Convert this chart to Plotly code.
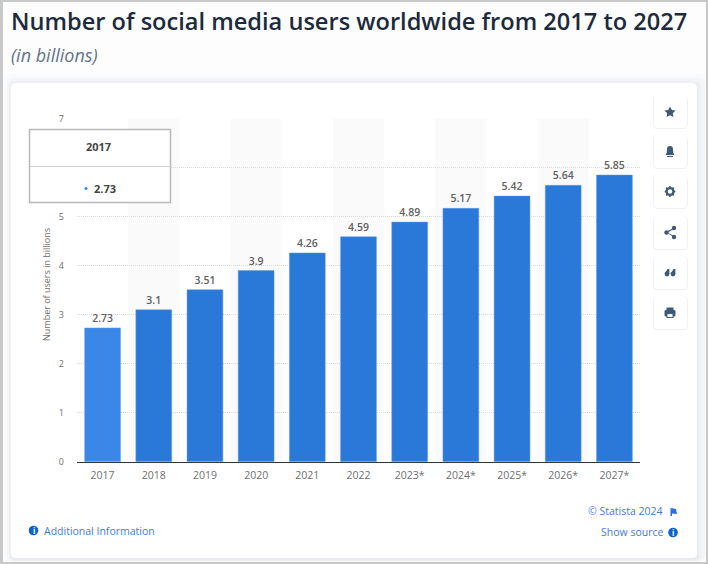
import plotly.graph_objects as go

W = 708
H = 564

years = ['2017', '2018', '2019', '2020', '2021', '2022', '2023*', '2024*', '2025*', '2026*', '2027*']
users = [2.73, 3.1, 3.51, 3.9, 4.26, 4.59, 4.89, 5.17, 5.42, 5.64, 5.85]
labels = ['2.73', '3.1', '3.51', '3.9', '4.26', '4.59', '4.89', '5.17', '5.42', '5.64', '5.85']
y_ticks = [0, 1, 2, 3, 4, 5, 6, 7]

BLUE = '#2a78d8'
BLUE_HOVER = '#3a87e8'
NAVY = '#3f5a78'
LINK = '#3f7ae0'
GREY_TXT = '#6f6f6f'
FONT = 'Open Sans'


def px(x):
    return x / W


def py(y):
    return 1 - y / H


def pt(x, y):
    return '%.5f,%.5f' % (px(x), py(y))


def poly(points):
    return 'M' + ' L'.join(pt(x, y) for x, y in points) + ' Z'


def rrect(x0, y0, x1, y1, r):
    return ('M' + pt(x0 + r, y0) + ' L' + pt(x1 - r, y0) + ' Q' + pt(x1, y0) + ' ' + pt(x1, y0 + r)
            + ' L' + pt(x1, y1 - r) + ' Q' + pt(x1, y1) + ' ' + pt(x1 - r, y1)
            + ' L' + pt(x0 + r, y1) + ' Q' + pt(x0, y1) + ' ' + pt(x0, y1 - r)
            + ' L' + pt(x0, y0 + r) + ' Q' + pt(x0, y0) + ' ' + pt(x0 + r, y0) + ' Z')


def chrome(path, fill, line=None, width=0, layer='above'):
    return dict(type='path', xref='paper', yref='paper', path=path, fillcolor=fill, layer=layer,
                line=dict(color=line or 'rgba(0,0,0,0)', width=width))


def circle(cx, cy, r, fill, layer='above'):
    return dict(type='circle', xref='paper', yref='paper', x0=px(cx - r), x1=px(cx + r),
                y0=py(cy + r), y1=py(cy - r), fillcolor=fill, layer=layer, line=dict(width=0))


def note(x, y, text, size, color, anchor='center', **font_kw):
    return dict(xref='paper', yref='paper', x=px(x), y=py(y), text=text, showarrow=False,
                xanchor=anchor, yanchor='middle', font=dict(family=FONT, size=size, color=color, **font_kw))


fig = go.Figure()
fig.add_trace(go.Bar(
    x=years, y=users, text=labels, textposition='outside', cliponaxis=False,
    textfont=dict(family=FONT, size=10.5, color='#606060', weight=600),
    marker=dict(color=[BLUE_HOVER] + [BLUE] * 10, line=dict(color='#5b9ae6', width=0.5)),
    hoverinfo='skip',
))

shapes = []
# page, soft shadow and card
shapes.append(chrome(rrect(5, 74, 706, 562, 8), '#f9fafb', layer='below'))
shapes.append(chrome(rrect(7, 78, 705, 562, 7), '#f4f5f7', layer='below'))
shapes.append(chrome(rrect(9, 81, 701, 561, 6), '#eff0f3', layer='below'))
shapes.append(chrome(rrect(10.5, 82.5, 698.5, 560, 5), '#e9ebee', layer='below'))
shapes.append(chrome(rrect(11, 83, 697, 558, 5), '#ffffff', layer='below'))
# page frame
for box in [(0, 0, 3, H), (0, 0, W, 2), (706, 0, W, H), (0, 562, W, H)]:
    shapes.append(chrome(rrect(box[0], box[1], box[2], box[3], 0), '#c8c8c8', layer='below'))
# alternating column bands behind the bars
for i in range(1, len(years), 2):
    shapes.append(dict(type='rect', xref='x', yref='y', x0=i - 0.5, x1=i + 0.5, y0=0, y1=7,
                       fillcolor='#fafafa', line=dict(width=0), layer='below'))
# tooltip
shapes.append(chrome(poly([(29.5, 129.5), (170.5, 129.5), (170.5, 202.5), (29.5, 202.5)]), '#ffffff', '#b9b9b9', 1.5))
shapes.append(chrome(poly([(30, 166), (170, 166), (170, 167), (30, 167)]), '#cfcfcf'))
shapes.append(circle(86, 188.5, 1.5, BLUE_HOVER))
# side buttons
btn_tops = [95, 135, 175, 216, 256, 296]
for t in btn_tops:
    shapes.append(chrome(rrect(653, t, 688, t + 34, 5), '#f0f1f4'))
    shapes.append(chrome(rrect(654, t, 687, t + 33, 4), '#ffffff'))
# star
shapes.append(chrome(poly([(670, 106.5), (671.8, 110), (675.5, 110.6), (672.8, 113.2), (673.4, 116.9), (670, 115.2),
                           (666.6, 116.9), (667.2, 113.2), (664.5, 110.6), (668.2, 110)]), NAVY))
# bell
shapes.append(chrome('M' + pt(665.5, 155) + ' Q' + pt(667, 153) + ' ' + pt(667, 149.5)
                     + ' Q' + pt(667, 146) + ' ' + pt(670, 146) + ' Q' + pt(673, 146) + ' ' + pt(673, 149.5)
                     + ' Q' + pt(673, 153) + ' ' + pt(674.5, 155) + ' Z', NAVY))
shapes.append(chrome(poly([(667, 156), (673, 156), (673, 157), (667, 157)]), NAVY))
# gear
shapes.append(circle(670, 191.5, 4.6, NAVY))
for dx, dy in [(0, -4.4), (0, 4.4), (-4.4, 0), (4.4, 0), (-3.2, -3.2), (3.2, -3.2), (-3.2, 3.2), (3.2, 3.2)]:
    shapes.append(circle(670 + dx, 191.5 + dy, 1.0, NAVY))
shapes.append(circle(670, 191.5, 2.2, '#ffffff'))
# share
shapes.append(chrome(poly([(666, 232), (673.5, 228), (674, 229), (667.5, 232.5), (674, 236), (673.5, 237)]), NAVY))
shapes.append(circle(674, 228, 2.2, NAVY))
shapes.append(circle(674, 237, 2.2, NAVY))
shapes.append(circle(666.5, 232.5, 2.2, NAVY))
# quotes
for qx in [667, 673]:
    shapes.append(circle(qx, 274, 2.4, NAVY))
    shapes.append(chrome(poly([(qx - 2.4, 274), (qx + 0.5, 269), (qx + 2.4, 269), (qx + 2.4, 274)]), NAVY))
# printer
shapes.append(chrome(rrect(664.5, 310, 675.5, 316.5, 1.5), NAVY))
shapes.append(chrome(poly([(666.5, 307.5), (673.5, 307.5), (673.5, 310), (666.5, 310)]), NAVY))
shapes.append(chrome(poly([(666.5, 313), (673.5, 313), (673.5, 318), (666.5, 318)]), NAVY))
shapes.append(chrome(poly([(667.5, 314), (672.5, 314), (672.5, 317), (667.5, 317)]), '#ffffff'))
# info icons and flag
shapes.append(circle(33.5, 530.5, 4.8, '#0b63ce'))
shapes.append(circle(673, 532.5, 4.8, '#0b63ce'))
shapes.append(chrome(poly([(670.5, 508), (676, 509), (677, 514), (672, 513.5), (672, 516), (670.5, 516)]), '#2a6fdb'))

annotations = [
    note(9, 21, 'Number of social media users worldwide from 2017 to 2027', 23.6, '#1b2b3d', 'left', weight=600),
    note(9, 55, '<i>(in billions)</i>', 18, '#5f7488', 'left'),
    note(99, 146.5, '2017', 11, '#444444', weight=700),
    note(92, 188.5, '2.73', 11, '#444444', 'left', weight=700),
    note(46, 285, 'Number of users in billions', 9, GREY_TXT),
    note(41.5, 530.5, 'Additional Information', 10.5, LINK, 'left'),
    note(665, 510.5, '© Statista 2024', 10.5, LINK, 'right'),
    note(665, 532, 'Show source', 10.5, LINK, 'right'),
    note(33.5, 530.5, '<b>i</b>', 8, '#ffffff'),
    note(673, 532.5, '<b>i</b>', 8, '#ffffff'),
]
annotations[4]['textangle'] = -90

fig.update_layout(
    width=W, height=H, margin=dict(l=0, r=0, t=0, b=0, pad=0),
    paper_bgcolor='#fdfdfe', plot_bgcolor='rgba(0,0,0,0)',
    showlegend=False, bargap=0.3, shapes=shapes, annotations=annotations,
    font=dict(family=FONT),
    xaxis=dict(domain=[px(77), px(640)], type='category', categoryorder='array', categoryarray=years,
               automargin=False, showline=True, linecolor='#333333', linewidth=1, showgrid=False, ticks='',
               tickfont=dict(family=FONT, size=10.5, color=GREY_TXT), ticklabelstandoff=4),
    yaxis=dict(domain=[py(461.7), py(118.7)], range=[0, 7], tickvals=y_ticks, showline=False, automargin=False,
               gridcolor='#d9d9d9', griddash='1px,1px', gridwidth=1, zeroline=False, ticks='',
               tickfont=dict(family=FONT, size=9, color=GREY_TXT), ticklabelstandoff=12),
)

fig.write_html("out.html", config=dict(displayModeBar=False),
               post_script="document.body.style.margin='0';document.body.style.overflow='hidden';")
